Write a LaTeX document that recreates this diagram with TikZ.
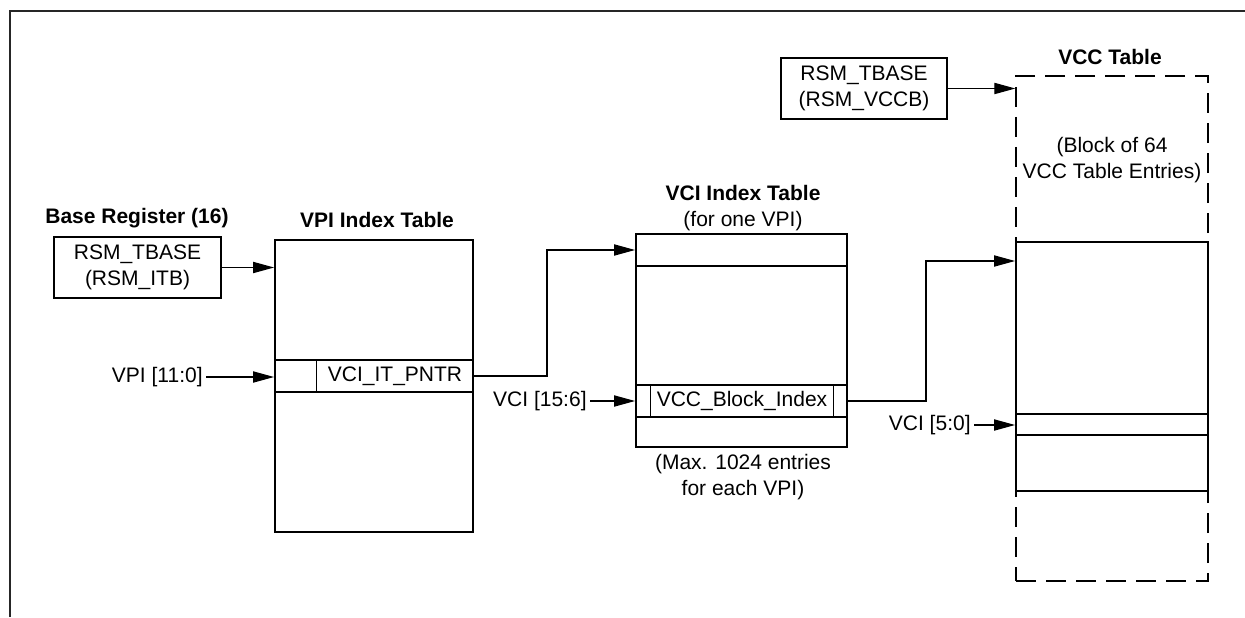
\documentclass[tikz,border=0pt]{standalone}
\usepackage{fontspec}
\setmainfont{Liberation Sans}
\usetikzlibrary{arrows.meta}

\begin{document}
\begin{tikzpicture}[
    x=.5pt,y=.5pt,font=\fontsize{10.5pt}{13pt}\selectfont,
    >={Triangle[length=10.5pt,width=5.6pt]},
    pageframe/.style={black!85,line width=.55pt},
    regbox/.style={draw,line width=.95pt,minimum width=83.5pt,minimum height=30.5pt,align=center,inner sep=0pt},
    tablebox/.style={draw,line width=.95pt,inner sep=0pt},
    dashbox/.style={draw,line width=.65pt,dash pattern=on 10pt off 5pt,inner sep=0pt},
    cell/.style={inner sep=0pt,minimum height=16pt},
    rowline/.style={line width=.6pt},
    heavy row/.style={line width=.9pt},
    tabletitle/.style={font=\fontsize{10.5pt}{13pt}\selectfont\bfseries,align=center},
    note/.style={align=center},
    conn/.style={->,line width=.6pt}
  ]
    \useasboundingbox (0,0) rectangle (1245,617);

    % Page frame, only its top and left edges are visible.
    \draw[pageframe] (10,0)--(10,606)--(1245,606);

    % Base register and the VPI index table.
    \node[tabletitle] (basettl) at (137,399) {Base Register (16)};
    \node[regbox] (itb) at (137.5,349.5) {RSM\_TBASE\\(RSM\_ITB)};
    \node[tabletitle] (vpittl) at (377,397) {VPI Index Table};
    \node[tablebox,minimum width=99pt,minimum height=146pt] (vpi) at (374,231) {};
    \draw[rowline] (vpi.west |- 0,257)--(vpi.east |- 0,257);
    \draw[heavy row] (vpi.west |- 0,225)--(vpi.east |- 0,225);
    \node[cell,minimum width=78pt] (pntr) at (395,241) {VCI\_IT\_PNTR};
    \draw[rowline] (pntr.north west)--(pntr.south west);
    \node[anchor=east,inner sep=1.5pt] (vpiidx) at (206,240) {VPI [11:0]};

    \draw[conn] (itb.east)--(itb.east -| vpi.west);
    \draw[conn] (vpiidx.east)--(vpiidx.east -| vpi.west);

    % VCI index table for one VPI.
    \node[tabletitle] (vcittl) at (743,409)
      {VCI Index Table\\\mdseries(for one VPI)};
    \node[tablebox,minimum width=105.5pt,minimum height=106.5pt] (vci) at (741.5,276.5) {};
    \draw[rowline] (vci.west |- 0,351)--(vci.east |- 0,351);
    \draw[rowline] (vci.west |- 0,232)--(vci.east |- 0,232);
    \draw[heavy row] (vci.west |- 0,200)--(vci.east |- 0,200);
    \node[cell,minimum width=91pt] (blk) at (742,216) {VCC\_Block\_Index};
    \draw[rowline] (blk.north west)--(blk.south west);
    \draw[rowline] (blk.north east)--(blk.south east);
    \node[anchor=east,inner sep=1.5pt] (vcihi) at (590,216) {VCI [15:6]};
    \node[note] (vcinote) at (743,140) {(Max. 1024 entries\\for each VPI)};

    \coordinate (vcientry) at (vci.west |- 0,367);
    \draw[conn] (pntr.east)--(pntr.east -| 547,0)|-(vcientry);
    \draw[conn] (vcihi.east)--(vcihi.east -| vci.west);

    % VCC table: a block of 64 entries inside the whole table.
    \node[regbox,minimum width=83pt] (vccb) at (864,528.5) {RSM\_TBASE\\(RSM\_VCCB)};
    \node[tabletitle] (vccttl) at (1110,560) {VCC Table};
    \node[dashbox,minimum width=96pt,minimum height=252.5pt] (vcc) at (1112,288.5) {};
    \node[note] (vccnote) at (1112,456.5) {(Block of 64\\VCC Table Entries)};
    \node[tablebox,fill=white,minimum width=96pt,minimum height=124.5pt] (vccblk) at (1112,250.5) {};
    \draw[heavy row] (vccblk.west |- 0,203)--(vccblk.east |- 0,203);
    \draw[heavy row] (vccblk.west |- 0,182)--(vccblk.east |- 0,182);
    \node[anchor=east,inner sep=1.5pt] (vcilo) at (974,192) {VCI [5:0]};

    \coordinate (vccentry) at (vccblk.west |- 0,356);
    \draw[conn] (vccb.east)--(vccb.east -| vcc.west);
    \draw[conn] (blk.east -| vci.east)--(926,216)|-(vccentry);
    \draw[conn] (vcilo.east)--(vcilo.east -| vccblk.west);
  \end{tikzpicture}
\end{document}
